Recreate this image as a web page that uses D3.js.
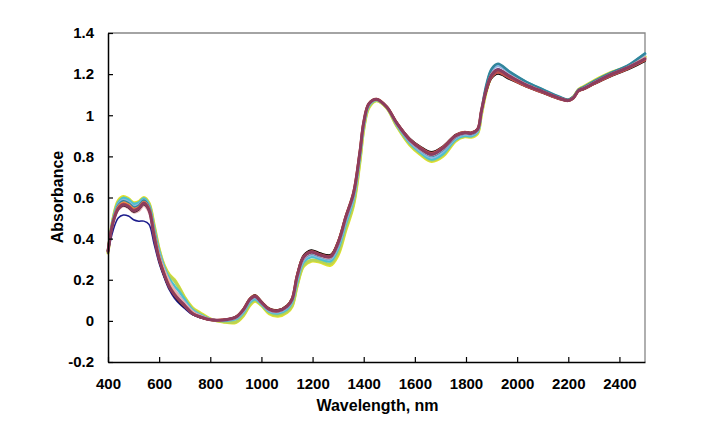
<!DOCTYPE html>
<html>
<head>
<meta charset="utf-8">
<script src="https://cdn.jsdelivr.net/npm/d3@7"></script>
<style>
  html, body { margin: 0; padding: 0; background: #fff; }
  svg { display: block; }
  text { font-family: "Liberation Sans", Arial, sans-serif; font-weight: bold; fill: #000; }
</style>
</head>
<body>
<svg id="chart" width="714" height="437"></svg>
<script>
// ---------- DATA ----------
const wavelengths = [400,420,440,460,480,500,520,540,560,580,600,620,640,660,680,700,730,760,800,850,900,930,955,975,1000,1030,1065,1100,1120,1140,1165,1195,1230,1270,1300,1330,1360,1385,1400,1420,1450,1490,1530,1580,1620,1665,1710,1760,1795,1820,1845,1860,1880,1900,1925,1970,2035,2100,2165,2200,2220,2240,2260,2300,2360,2430,2470,2500];

const sampleYellow = [0.33,0.50,0.585,0.605,0.595,0.575,0.58,0.60,0.575,0.47,0.35,0.27,0.225,0.20,0.16,0.115,0.065,0.04,0.01,-0.005,-0.008,0.025,0.075,0.095,0.075,0.035,0.022,0.04,0.07,0.17,0.265,0.29,0.285,0.27,0.32,0.44,0.56,0.77,0.93,1.035,1.07,1.035,0.945,0.855,0.81,0.775,0.80,0.875,0.895,0.893,0.91,1.00,1.12,1.19,1.22,1.19,1.15,1.118,1.086,1.074,1.09,1.125,1.14,1.168,1.205,1.235,1.262,1.285];
const sampleLime = [0.335,0.495,0.578,0.598,0.588,0.568,0.575,0.595,0.57,0.46,0.345,0.265,0.22,0.195,0.155,0.11,0.06,0.035,0.008,-0.003,-0.005,0.03,0.08,0.1,0.078,0.04,0.028,0.045,0.075,0.175,0.27,0.295,0.29,0.278,0.33,0.45,0.57,0.78,0.935,1.04,1.072,1.036,0.948,0.86,0.815,0.78,0.806,0.88,0.898,0.897,0.915,1.005,1.12,1.19,1.218,1.188,1.148,1.116,1.085,1.073,1.088,1.123,1.137,1.165,1.202,1.233,1.26,1.283];
const sampleCyan = [0.34,0.495,0.575,0.598,0.59,0.57,0.575,0.595,0.565,0.455,0.34,0.26,0.205,0.17,0.14,0.105,0.055,0.03,0.008,0.0,0.008,0.04,0.09,0.105,0.08,0.045,0.036,0.055,0.09,0.19,0.285,0.31,0.3,0.29,0.35,0.47,0.59,0.795,0.945,1.045,1.074,1.038,0.952,0.865,0.82,0.785,0.812,0.882,0.9,0.898,0.918,1.01,1.14,1.22,1.245,1.21,1.162,1.124,1.088,1.074,1.088,1.122,1.135,1.162,1.2,1.238,1.272,1.30];
const sampleSky = [0.34,0.49,0.565,0.588,0.578,0.558,0.565,0.588,0.56,0.445,0.33,0.25,0.19,0.15,0.12,0.09,0.048,0.026,0.007,0.002,0.012,0.047,0.097,0.112,0.085,0.05,0.042,0.062,0.097,0.2,0.295,0.32,0.308,0.3,0.362,0.485,0.6,0.805,0.952,1.05,1.076,1.04,0.956,0.872,0.828,0.795,0.825,0.89,0.906,0.904,0.922,1.013,1.14,1.215,1.24,1.205,1.158,1.121,1.087,1.073,1.087,1.121,1.133,1.16,1.198,1.235,1.268,1.295];
const sampleTeal = [0.34,0.487,0.56,0.582,0.572,0.552,0.56,0.585,0.555,0.438,0.318,0.24,0.18,0.14,0.11,0.082,0.043,0.023,0.006,0.003,0.015,0.052,0.102,0.117,0.088,0.054,0.046,0.067,0.102,0.212,0.303,0.328,0.315,0.307,0.372,0.497,0.612,0.815,0.96,1.053,1.077,1.04,0.958,0.876,0.835,0.803,0.833,0.895,0.911,0.909,0.927,1.02,1.15,1.225,1.25,1.212,1.163,1.126,1.09,1.076,1.09,1.124,1.137,1.165,1.203,1.24,1.273,1.30];
const samplePink = [0.335,0.475,0.54,0.558,0.548,0.528,0.535,0.56,0.53,0.42,0.315,0.245,0.19,0.15,0.115,0.085,0.045,0.025,0.007,0.004,0.016,0.053,0.103,0.118,0.088,0.054,0.046,0.068,0.103,0.215,0.305,0.33,0.316,0.308,0.376,0.5,0.617,0.818,0.962,1.054,1.077,1.04,0.958,0.877,0.836,0.806,0.836,0.897,0.912,0.91,0.928,1.015,1.125,1.2,1.225,1.193,1.15,1.116,1.084,1.072,1.085,1.12,1.131,1.158,1.196,1.232,1.258,1.28];
const sampleOrange = [0.34,0.485,0.555,0.575,0.565,0.545,0.552,0.578,0.548,0.43,0.31,0.232,0.172,0.132,0.1,0.075,0.038,0.02,0.006,0.005,0.02,0.058,0.108,0.124,0.094,0.06,0.052,0.074,0.11,0.225,0.315,0.34,0.326,0.318,0.386,0.51,0.625,0.825,0.968,1.057,1.079,1.042,0.962,0.883,0.843,0.813,0.843,0.902,0.917,0.914,0.932,1.02,1.125,1.19,1.212,1.183,1.143,1.112,1.081,1.071,1.084,1.118,1.128,1.153,1.19,1.226,1.25,1.27];
const sampleNavy = [0.33,0.44,0.50,0.515,0.51,0.492,0.485,0.485,0.47,0.375,0.28,0.21,0.15,0.11,0.082,0.06,0.03,0.015,0.004,0.004,0.018,0.055,0.104,0.119,0.089,0.056,0.048,0.07,0.105,0.218,0.308,0.333,0.318,0.31,0.378,0.502,0.618,0.818,0.963,1.054,1.077,1.039,0.958,0.878,0.838,0.808,0.838,0.898,0.913,0.91,0.928,1.017,1.128,1.2,1.225,1.192,1.148,1.114,1.082,1.071,1.084,1.119,1.129,1.155,1.192,1.227,1.25,1.268];
const sampleBlack = [0.34,0.478,0.542,0.56,0.55,0.53,0.54,0.566,0.535,0.41,0.29,0.215,0.158,0.12,0.09,0.066,0.032,0.016,0.004,0.006,0.022,0.06,0.11,0.126,0.096,0.062,0.054,0.076,0.112,0.23,0.32,0.345,0.33,0.322,0.39,0.512,0.626,0.826,0.968,1.057,1.079,1.043,0.965,0.888,0.85,0.822,0.85,0.907,0.92,0.917,0.934,1.015,1.115,1.178,1.2,1.175,1.138,1.108,1.078,1.069,1.082,1.116,1.125,1.15,1.185,1.22,1.243,1.262];
const sampleRed = [0.34,0.482,0.55,0.57,0.56,0.54,0.55,0.576,0.544,0.42,0.3,0.225,0.165,0.127,0.097,0.072,0.036,0.019,0.005,0.005,0.02,0.057,0.107,0.122,0.092,0.058,0.05,0.072,0.108,0.224,0.314,0.338,0.323,0.315,0.384,0.508,0.623,0.823,0.967,1.056,1.078,1.041,0.962,0.884,0.845,0.816,0.846,0.904,0.918,0.915,0.933,1.02,1.122,1.185,1.208,1.18,1.14,1.11,1.079,1.07,1.083,1.117,1.127,1.152,1.188,1.224,1.248,1.268];
const sampleMaroon = [0.34,0.48,0.545,0.565,0.555,0.535,0.545,0.572,0.54,0.41,0.30,0.225,0.165,0.128,0.10,0.075,0.036,0.02,0.005,0.004,0.018,0.055,0.105,0.12,0.09,0.056,0.048,0.07,0.105,0.22,0.31,0.335,0.32,0.312,0.38,0.505,0.62,0.82,0.965,1.055,1.078,1.04,0.96,0.88,0.84,0.81,0.84,0.90,0.915,0.912,0.93,1.02,1.13,1.195,1.22,1.19,1.148,1.115,1.083,1.072,1.085,1.12,1.13,1.156,1.195,1.23,1.255,1.275];

const seriesValues = [sampleYellow, sampleLime, sampleCyan, sampleSky, sampleTeal, samplePink, sampleOrange, sampleNavy, sampleBlack, sampleRed, sampleMaroon];
const xTicks = [400,600,800,1000,1200,1400,1600,1800,2000,2200,2400];
const yTicks = [-0.2,0,0.2,0.4,0.6,0.8,1,1.2,1.4];
const xTitle = "Wavelength, nm";
const yTitle = "Absorbance";

// ---------- STYLE ----------
const colors = ["#E2E22A","#B9D353","#4BC0CF","#8DB4E2","#31859C","#E6B0B4","#F79646","#1C1C8C","#000000","#C0504D","#8C3D5E"];
const widths = [3,3,2.5,2.5,2.5,2.5,2.5,1.5,1.5,2.5,3];

const svg = d3.select("#chart");
const L = 108, R = 645, T = 33, B = 362;
const x = d3.scaleLinear().domain([400, 2500]).range([L, R]);
const y = d3.scaleLinear().domain([-0.2, 1.4]).range([B, T]);

// border top/right (gray)
svg.append("path")
  .attr("d", `M${L},${T}H${R}V${B}`)
  .attr("fill", "none").attr("stroke", "#868686").attr("stroke-width", 1.3);

// lines
const line = d3.line()
  .x((d, i) => x(wavelengths[i]))
  .y(d => y(d))
  .curve(d3.curveCatmullRom.alpha(0.5));

const g = svg.append("g");
seriesValues.forEach((vals, k) => {
  g.append("path")
    .datum(vals)
    .attr("d", line)
    .attr("fill", "none")
    .attr("stroke", colors[k])
    .attr("stroke-width", widths[k])
    .attr("stroke-linejoin", "round")
    .attr("stroke-linecap", "round");
});

// axes
const fmt = d => String(+(+d).toFixed(1));
const yAxis = svg.append("g")
  .attr("transform", `translate(${L},0)`)
  .call(d3.axisLeft(y).tickValues(yTicks).tickFormat(fmt).tickSize(-5).tickSizeOuter(0).tickPadding(14));
const xAxis = svg.append("g")
  .attr("transform", `translate(0,${B})`)
  .call(d3.axisBottom(x).tickValues(xTicks).tickFormat(d3.format("d")).tickSize(-5).tickSizeOuter(0).tickPadding(16));

[yAxis, xAxis].forEach(a => {
  a.select(".domain").attr("stroke", "#000").attr("stroke-width", 1.5);
  a.selectAll(".tick line").attr("stroke", "#000").attr("stroke-width", 1.2);
  a.selectAll(".tick text").attr("font-size", 15).attr("font-family", '"Liberation Sans", Arial, sans-serif').attr("font-weight", "bold").attr("fill", "#000");
});

svg.append("text")
  .attr("x", (L + R) / 2 + 1).attr("y", 411)
  .attr("text-anchor", "middle").attr("font-size", 16)
  .text(xTitle);

svg.append("text")
  .attr("transform", `translate(63,197) rotate(-90)`)
  .attr("text-anchor", "middle").attr("font-size", 16)
  .text(yTitle);
</script>
</body>
</html>
